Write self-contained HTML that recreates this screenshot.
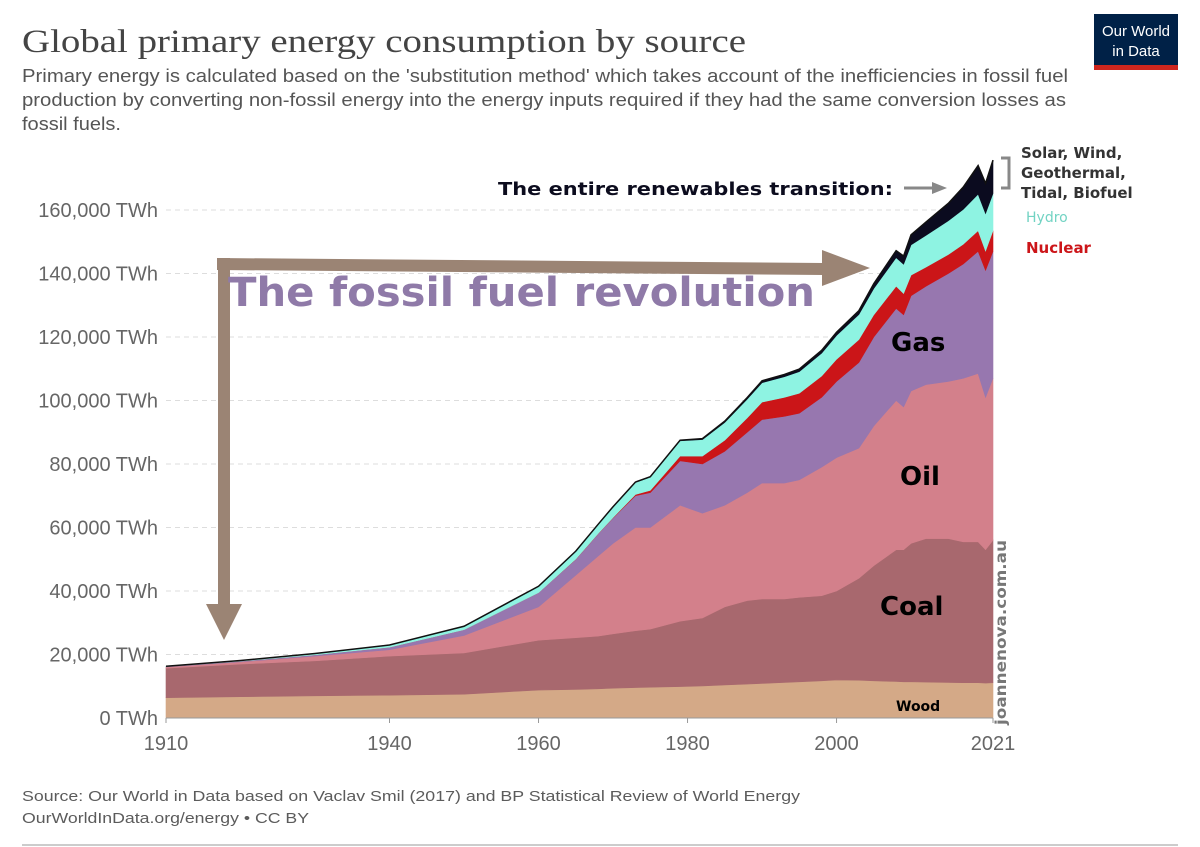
<!DOCTYPE html>
<html><head><meta charset="utf-8">
<style>
body{margin:0;background:#fff;}
svg{display:block;font-family:"Liberation Sans","DejaVu Sans",sans-serif;}
.dv{font-family:"DejaVu Sans","Liberation Sans",sans-serif;}
</style></head>
<body>
<svg id="chart" width="1200" height="847" viewBox="0 0 1200 847">
  <text x="22" y="52" font-family="Liberation Serif, serif" font-size="33" fill="#444" textLength="724" lengthAdjust="spacingAndGlyphs">Global primary energy consumption by source</text>
  <g font-size="18" fill="#555">
    <text x="22" y="82" textLength="1046" lengthAdjust="spacingAndGlyphs">Primary energy is calculated based on the 'substitution method' which takes account of the inefficiencies in fossil fuel</text>
    <text x="22" y="106" textLength="1044" lengthAdjust="spacingAndGlyphs">production by converting non-fossil energy into the energy inputs required if they had the same conversion losses as</text>
    <text x="22" y="130" textLength="99" lengthAdjust="spacingAndGlyphs">fossil fuels.</text>
  </g>
  <g>
    <rect x="1094" y="14" width="84" height="56" fill="#002147"/>
    <rect x="1094" y="65" width="84" height="5" fill="#ce261e"/>
    <text x="1136" y="36" text-anchor="middle" fill="#fff" font-size="15">Our World</text>
    <text x="1136" y="56" text-anchor="middle" fill="#fff" font-size="15">in Data</text>
  </g>
  <g id="grid"></g>
  <g id="areas"></g>
  <g id="axes"></g>
  <g id="annot">
    <g fill="#9b8474">
      <polygon points="217,258 824,263 824,275 217,270"/>
      <polygon points="822,250 870,268 822,286"/>
      <rect x="218" y="258" width="12" height="350"/>
      <polygon points="206,604 242,604 224,640"/>
    </g>
    <text x="228" y="306" class="dv" font-size="40" font-weight="bold" fill="#8f7aa8" textLength="587" lengthAdjust="spacingAndGlyphs">The fossil fuel revolution</text>
    <text x="498" y="195" class="dv" font-size="18" font-weight="bold" fill="#0c0c1e" textLength="395" lengthAdjust="spacingAndGlyphs">The entire renewables transition:</text>
    <g>
      <line x1="904" y1="188" x2="935" y2="188" stroke="#888" stroke-width="3"/>
      <polygon points="932,182 947,188 932,194" fill="#888"/>
    </g>
    <path d="M1001,158 H1009 V188 H1001" fill="none" stroke="#888" stroke-width="3"/>
    <g class="dv" font-size="15" font-weight="bold" fill="#333">
      <text x="1021" y="158">Solar, Wind,</text>
      <text x="1021" y="178">Geothermal,</text>
      <text x="1021" y="198">Tidal, Biofuel</text>
    </g>
    <text x="1026" y="222" class="dv" font-size="14" fill="#72d3c3">Hydro</text>
    <text x="1026" y="253" class="dv" font-size="15" font-weight="bold" fill="#cc1519">Nuclear</text>
    <text x="891" y="351" class="dv" font-size="26" font-weight="bold" fill="#000">Gas</text>
    <text x="900" y="485" class="dv" font-size="26" font-weight="bold" fill="#000">Oil</text>
    <text x="880" y="615" class="dv" font-size="26" font-weight="bold" fill="#000">Coal</text>
    <text x="896" y="711" class="dv" font-size="14" font-weight="bold" fill="#000">Wood</text>
    <text transform="translate(1006,725) rotate(-90)" class="dv" font-size="15" font-weight="bold" fill="#777" textLength="185" lengthAdjust="spacingAndGlyphs">joannenova.com.au</text>
  </g>
  <g font-size="15" fill="#5b5b5b">
    <text x="22" y="801" textLength="778" lengthAdjust="spacingAndGlyphs">Source: Our World in Data based on Vaclav Smil (2017) and BP Statistical Review of World Energy</text>
    <text x="22" y="823" textLength="287" lengthAdjust="spacingAndGlyphs">OurWorldInData.org/energy • CC BY</text>
  </g>
  <line x1="22" y1="845" x2="1178" y2="845" stroke="#999" stroke-width="1"/>
</svg>
<script>
const years = [1910,1920,1930,1940,1950,1960,1965,1968,1970,1973,1975,1979,1982,1985,1988,1990,1993,1995,1998,2000,2003,2005,2008,2009,2010,2012,2015,2017,2019,2020,2021];
const wood = [6400,6700,7000,7200,7500,8800,9000,9200,9400,9600,9700,9900,10100,10400,10700,10900,11200,11400,11700,12000,11900,11700,11500,11400,11400,11300,11200,11100,11100,11000,11100];
const coal = [9300,10300,11000,12300,13000,15700,16300,16600,17100,17900,18300,20600,21400,24600,26300,26600,26300,26600,26800,28000,32100,36300,41500,41600,43600,45200,45300,44400,44400,42000,44900];
const oil = [400,700,1500,2000,5500,10500,19700,25200,28500,32500,32000,36500,33000,32000,34000,36500,36500,37000,40500,42000,41000,44000,47000,45000,48000,48500,49500,51500,53000,48000,51000];
const gas = [100,200,400,800,1800,4500,5000,7000,8000,10000,11000,14000,15500,17000,19000,20000,21000,21000,22000,24000,27000,28000,29000,29000,30000,31000,34000,36000,38500,40000,40000];
const nuclear = [0,0,0,0,0,0,50,100,150,400,700,1500,2500,3500,4500,5500,6000,6300,6700,7000,7200,7000,7000,6700,6500,6000,6000,6200,6500,6100,6500];
const hydro = [100,200,400,700,1100,2000,2500,2900,3300,3800,4200,4800,5200,5600,5900,6100,6500,6800,7200,7500,7900,8300,9000,9200,9500,10000,10600,11000,11500,11800,11700];
const otherRenew = [0,0,0,0,0,0,0,0,100,100,100,200,300,400,500,600,700,800,900,1000,1200,1500,2200,2600,3200,4200,5500,7000,9000,9500,10500];
const yTicks = [0,20000,40000,60000,80000,100000,120000,140000,160000];
const xTicks = [1910,1940,1960,1980,2000,2021];

const NS = "http://www.w3.org/2000/svg";
const X0=166, X1=993, Y0=718, Y1=210;
const xScale = y => X0 + (y-1910)/(2021-1910)*(X1-X0);
const yScale = v => Y0 - v/160000*(Y0-Y1);
function mk(tag, attrs, parent){const e=document.createElementNS(NS,tag);for(const k in attrs)e.setAttribute(k,attrs[k]);parent.appendChild(e);return e;}

const gridG=document.getElementById('grid'), axesG=document.getElementById('axes'), areasG=document.getElementById('areas');
yTicks.forEach(t=>{
  if(t>0){
    const l=mk('line',{x1:X0,x2:X1,y1:yScale(t),y2:yScale(t),stroke:'#ddd','stroke-dasharray':'5,4'},gridG);
    
    
  }
  const tx=mk('text',{x:158,y:yScale(t)+7,'text-anchor':'end','font-size':'20',fill:'#666'},axesG);
  tx.textContent=t.toLocaleString('en-US')+' TWh';
  
  
});
const baseLine=mk('line',{x1:X0,x2:X1,y1:Y0,y2:Y0,stroke:'#999'},axesG);


xTicks.forEach(t=>{
  const tk=mk('line',{x1:xScale(t),x2:xScale(t),y1:Y0,y2:Y0+5,stroke:'#999'},axesG);
  
  
  const tx=mk('text',{x:xScale(t),y:Y0+32,'text-anchor':'middle','font-size':'20',fill:'#666'},axesG);
  tx.textContent=t;
  
  
});

const series=[
  {name:'wood',vals:wood,color:'#d4a987'},
  {name:'coal',vals:coal,color:'#a8686e'},
  {name:'oil',vals:oil,color:'#d3808b'},
  {name:'gas',vals:gas,color:'#9777af'},
  {name:'nuclear',vals:nuclear,color:'#cb1518'},
  {name:'hydro',vals:hydro,color:'#8ef3e2'},
  {name:'other-renewables',vals:otherRenew,color:'#0b0b1f'}
];
let cum=years.map(()=>0);
series.forEach(s=>{
  const lower=cum.slice();
  const upper=cum.map((c,i)=>c+s.vals[i]);
  let d='M'+years.map((y,i)=>xScale(y)+','+yScale(upper[i])).join(' L');
  for(let i=years.length-1;i>=0;i--) d+=' L'+xScale(years[i])+','+yScale(lower[i]);
  d+=' Z';
  const p=mk('path',{d:d,fill:s.color,stroke:s.color,'stroke-width':'0.6'},areasG);
  
  
  cum=upper;
});
const totalLine=mk('path',{d:'M'+years.map((y,i)=>xScale(y)+','+yScale(cum[i])).join(' L'),fill:'none',stroke:'#111','stroke-width':'1.5'},areasG);


</script>
</body></html>
